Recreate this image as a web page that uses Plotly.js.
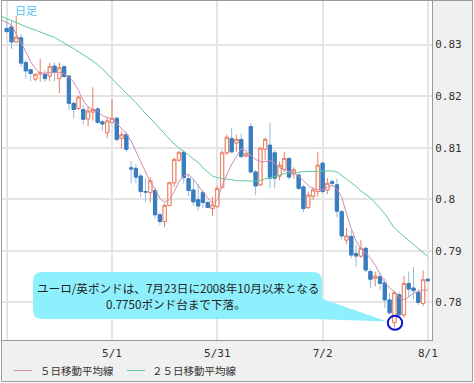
<!DOCTYPE html>
<html><head><meta charset="utf-8">
<script src="https://cdn.plot.ly/plotly-3.0.1.min.js"></script>
<style>html,body{margin:0;padding:0;background:#fff;}#chart{width:474px;height:383px;}</style>
</head><body><div id="chart"></div>
<script>
// trading days (first one only carries the moving-average start)
const dates = ['3/29','3/30',
'4/2','4/3','4/4','4/5','4/6','4/9','4/10','4/11','4/12','4/13',
'4/16','4/17','4/18','4/19','4/20','4/23','4/24','4/25','4/26','4/27',
'4/30','5/1','5/2','5/3','5/4','5/7','5/8','5/9','5/10','5/11',
'5/14','5/15','5/16','5/17','5/18','5/21','5/22','5/23','5/24','5/25',
'5/28','5/29','5/30','5/31','6/1','6/4','6/5','6/6','6/7','6/8',
'6/11','6/12','6/13','6/14','6/15','6/18','6/19','6/20','6/21','6/22',
'6/25','6/26','6/27','6/28','6/29','7/2','7/3','7/4','7/5','7/6',
'7/9','7/10','7/11','7/12','7/13','7/16','7/17','7/18','7/19','7/20',
'7/23','7/24','7/25','7/26','7/27','7/30','7/31','8/1'];
const candleDates = dates.slice(1);

const openP = [.8331,.8334,.8305,.8313,.8265,.8251,.8233,.8243,.8242,.8239,
.8258,.8234,.8257,.8239,.8186,.8176,.8174,.8156,.8169,.8175,
.8150,.8129,.8149,.8157,.8118,.8125,.8061,.8060,.8045,.8015,
.8013,.8017,.7970,.7957,.7988,.8032,.8076,.8091,.8040,.8018,
.7999,.8013,.7994,.7982,.7986,.8023,.8090,.8118,.8109,.8116,
.8084,.8141,.8053,.8028,.8097,.8105,.8090,.8045,.8058,.8079,
.8049,.8047,.8024,.7984,.8006,.8015,.8070,.8018,.8034,.8028,
.7976,.7921,.7928,.7895,.7890,.7905,.7860,.7847,.7850,.7838,
.7805,.7761,.7815,.7776,.7837,.7828,.7820,.7798,.7845];
const highP = [.8348,.8347,.8355,.8320,.8270,.8252,.8244,.8272,.8250,.8265,
.8265,.8265,.8258,.8240,.8189,.8201,.8183,.8179,.8217,.8179,
.8154,.8159,.8194,.8160,.8131,.8131,.8074,.8068,.8050,.8041,
.8043,.8024,.7975,.7992,.8034,.8081,.8093,.8095,.8050,.8039,
.8030,.8018,.7996,.8005,.8026,.8096,.8125,.8138,.8125,.8128,
.8091,.8147,.8057,.8102,.8120,.8148,.8096,.8073,.8092,.8082,
.8062,.8050,.8028,.8015,.8024,.8092,.8073,.8041,.8039,.8040,
.7980,.7944,.7940,.7911,.7921,.7908,.7866,.7860,.7857,.7847,
.7818,.7822,.7820,.7852,.7860,.7869,.7826,.7862,.7847];
const lowP = [.8322,.8291,.8303,.8257,.8233,.8229,.8229,.8228,.8228,.8229,
.8229,.8205,.8236,.8173,.8157,.8173,.8145,.8141,.8152,.8147,
.8133,.8118,.8147,.8112,.8099,.8092,.8031,.8031,.8004,.7995,
.7994,.7963,.7950,.7946,.7986,.8024,.8073,.8030,.8006,.7987,
.7977,.7983,.7983,.7968,.7983,.8021,.8086,.8089,.8092,.8079,
.8081,.8050,.8008,.8026,.8076,.8021,.8021,.8037,.8053,.8038,
.8040,.8018,.7975,.7981,.7999,.8005,.8012,.8010,.8025,.7965,
.7922,.7913,.7886,.7869,.7886,.7859,.7828,.7831,.7824,.7789,
.7777,.7752,.7772,.7771,.7811,.7806,.7795,.7793,.7840];
const closeP = [.8325,.8305,.8314,.8264,.8249,.8244,.8242,.8245,.8234,.8257,
.8246,.8255,.8238,.8186,.8174,.8198,.8155,.8171,.8174,.8149,
.8146,.8152,.8157,.8116,.8125,.8097,.8059,.8043,.8015,.8014,
.8036,.7970,.7957,.7988,.8032,.8077,.8091,.8042,.8017,.7995,
.7987,.7994,.7984,.7989,.8021,.8090,.8120,.8092,.8116,.8083,
.8088,.8053,.8026,.8099,.8116,.8041,.8041,.8066,.8079,.8043,
.8057,.8021,.7982,.8008,.8018,.8066,.8015,.8031,.8031,.7977,
.7929,.7929,.7892,.7890,.7905,.7863,.7845,.7851,.7837,.7805,
.7780,.7819,.7776,.7837,.7826,.7823,.7800,.7844,.7842];

const ma5 = [.8347,.8342,.8338,.8320,.8304,.8286,.8267,.8253,.8244,.8245,.8245,
.8246,.8246,.8243,.8237,.8227,.8211,.8191,.8179,.8175,.8171,
.8162,.8158,.8155,.8147,.8138,.8127,.8113,.8093,.8072,.8052,
.8033,.8020,.8002,.7994,.8000,.8015,.8034,.8046,.8048,.8039,
.8026,.8014,.8003,.7992,.7999,.8026,.8048,.8068,.8083,.8098,
.8094,.8085,.8077,.8073,.8073,.8075,.8071,.8061,.8057,.8054,
.8053,.8045,.8036,.8027,.8020,.8019,.8018,.8023,.8027,.8020,
.8004,.7972,.7943,.7919,.7904,.7896,.7886,.7872,.7856,.7839,
.7828,.7821,.7810,.7805,.7811,.7818,.7821,.7824,.7824];
const ma25 = [.8354,.8350,.8346,.8342,.8339,.8335,.8331,.8328,.8324,.8321,.8317,
.8314,.8308,.8303,.8297,.8292,.8286,.8281,.8275,.8268,.8261,
.8253,.8243,.8234,.8224,.8215,.8205,.8197,.8187,.8176,.8166,
.8157,.8147,.8136,.8126,.8116,.8107,.8099,.8093,.8086,.8078,
.8072,.8061,.8053,.8045,.8042,.8040,.8039,.8038,.8036,.8036,
.8036,.8035,.8035,.8037,.8040,.8042,.8044,.8047,.8050,.8051,
.8052,.8053,.8054,.8054,.8054,.8054,.8054,.8055,.8055,.8053,
.8046,.8039,.8032,.8025,.8016,.8010,.8003,.7993,.7983,.7972,
.7958,.7944,.7936,.7928,.7920,.7912,.7905,.7897,.7889];

const xTickVals = ['3/30','5/1','5/31','7/2','8/1'];
const xTickText = ['','5/1','5/31','7/2','8/1'];
const yTickVals = [0.78,0.79,0.80,0.81,0.82,0.83];
const yTickText = ['0.78','0.79','0.8','0.81','0.82','0.83'];
const legendLabels = ['５日移動平均線','２５日移動平均線'];
const noteLines = ['ユーロ/英ポンドは、7月23日に2008年10月以来となる','0.7750ポンド台まで下落。'];
const periodLabel = '日足';

const RED = '#ec8164', BLUE = '#3a7dbf', BLUE_WICK = '#92bde3';
const PINK = '#d08cac', GREEN = '#5ec99a', CALLOUT = '#8ef0fd';

// page geometry (pixels) -> paper coordinates
const L = 2, T = 1, W = 430, H = 339;
const px = x => (x - L) / W;
const py = y => (T + H - y) / H;
const P = (x, y) => px(x).toFixed(5) + ',' + py(y).toFixed(5);

const bodyHigh = openP.map((o, k) => Math.max(o, closeP[k]));
const bodyLow = openP.map((o, k) => Math.min(o, closeP[k]));

const traces = [
  {type:'candlestick', x:candleDates, open:openP, high:highP, low:lowP, close:closeP,
   increasing:{line:{color:RED,width:1}, fillcolor:'#ffffff'},
   decreasing:{line:{color:BLUE_WICK,width:1}, fillcolor:BLUE},
   whiskerwidth:0, hoverinfo:'skip', showlegend:false},
  {type:'candlestick', x:candleDates, open:openP, high:bodyHigh, low:bodyLow, close:closeP,
   increasing:{line:{color:RED,width:1}, fillcolor:'#ffffff'},
   decreasing:{line:{color:BLUE,width:1}, fillcolor:BLUE},
   whiskerwidth:0, hoverinfo:'skip', showlegend:false},
  {type:'scatter', mode:'lines', x:dates, y:ma25, line:{color:GREEN,width:1}, hoverinfo:'skip', showlegend:false},
  {type:'scatter', mode:'lines', x:dates, y:ma5, line:{color:PINK,width:1}, hoverinfo:'skip', showlegend:false}
];

function roundRect(x0, y0, x1, y1, r) {
  return 'M' + P(x0 + r, y0) + ' L' + P(x1 - r, y0) + ' Q' + P(x1, y0) + ' ' + P(x1, y0 + r) +
    ' L' + P(x1, y1 - r) + ' Q' + P(x1, y1) + ' ' + P(x1 - r, y1) +
    ' L' + P(x0 + r, y1) + ' Q' + P(x0, y1) + ' ' + P(x0, y1 - r) +
    ' L' + P(x0, y0 + r) + ' Q' + P(x0, y0) + ' ' + P(x0 + r, y0) + ' Z';
}

const shapes = [
  {type:'rect', xref:'paper', yref:'paper', x0:px(432), x1:px(472.5), y0:py(381.5), y1:py(0.5), fillcolor:'#f0f0f0', line:{width:0}, layer:'below'},
  {type:'rect', xref:'paper', yref:'paper', x0:px(1.5), x1:px(432), y0:py(381.5), y1:py(340), fillcolor:'#f0f0f0', line:{width:0}, layer:'below'},
  {type:'rect', xref:'paper', yref:'paper', x0:px(1.5), x1:px(472.5), y0:py(381.5), y1:py(0.5), line:{color:'#9a9a9a', width:1}, layer:'above'},
  {type:'path', xref:'paper', yref:'paper', path:roundRect(33, 272, 322, 319, 9), fillcolor:CALLOUT, line:{width:0}, layer:'above'},
  {type:'path', xref:'paper', yref:'paper', path:'M' + P(320, 298) + ' L' + P(387, 321.5) + ' L' + P(314, 319) + ' Z', fillcolor:CALLOUT, line:{width:0}, layer:'above'},
  {type:'circle', xref:'paper', yref:'paper', x0:px(387.8), x1:px(402.2), y0:py(329.8), y1:py(315.8), line:{color:'#1010d0', width:2}, layer:'above'},
  {type:'line', xref:'paper', yref:'paper', x0:px(14), x1:px(32), y0:py(370.5), y1:py(370.5), line:{color:PINK, width:1}},
  {type:'line', xref:'paper', yref:'paper', x0:px(127), x1:px(145), y0:py(370.5), y1:py(370.5), line:{color:GREEN, width:1}}
];

const cjk = '"Noto Sans CJK JP", "Noto Sans", sans-serif';
const annotations = [
  {xref:'paper', yref:'paper', x:px(13), y:py(10), text:periodLabel, showarrow:false, xanchor:'left', yanchor:'middle', font:{family:cjk, size:11, color:'#4fc3ee'}},
  {xref:'paper', yref:'paper', x:px(38), y:py(370.5), text:legendLabels[0], showarrow:false, xanchor:'left', yanchor:'middle', font:{family:cjk, size:10.5, color:'#333'}},
  {xref:'paper', yref:'paper', x:px(150), y:py(370.5), text:legendLabels[1], showarrow:false, xanchor:'left', yanchor:'middle', font:{family:cjk, size:10.5, color:'#333'}},
  {xref:'paper', yref:'paper', x:px(178), y:py(288), text:noteLines[0], showarrow:false, xanchor:'center', yanchor:'middle', font:{family:cjk, size:11.6, color:'#222'}},
  {xref:'paper', yref:'paper', x:px(176), y:py(303.5), text:noteLines[1], showarrow:false, xanchor:'center', yanchor:'middle', font:{family:cjk, size:11.6, color:'#222'}}
];

const layout = {
  width:474, height:383,
  margin:{l:L, r:474 - L - W, t:T, b:383 - T - H, pad:0},
  paper_bgcolor:'#ffffff', plot_bgcolor:'#ffffff',
  showlegend:false, hovermode:false,
  boxgap:0.18, boxgroupgap:0.18,
  xaxis:{type:'category', categoryorder:'array', categoryarray:dates,
    range:[0.018, 89.86], autorange:false, fixedrange:true,
    tickmode:'array', tickvals:xTickVals, ticktext:xTickText,
    showgrid:true, gridcolor:'#e4e4e4', gridwidth:2, zeroline:false,
    showline:true, linecolor:'#9a9a9a', linewidth:1, mirror:true,
    ticks:'', ticklabelstandoff:3,
    tickfont:{family:'"DejaVu Sans Mono", monospace', size:11, color:'#333'},
    rangeslider:{visible:false}},
  yaxis:{side:'right', range:[0.77273, 0.83843], autorange:false, fixedrange:true,
    tickmode:'array', tickvals:yTickVals, ticktext:yTickText,
    showgrid:true, gridcolor:'#e4e4e4', gridwidth:2, zeroline:false,
    showline:true, linecolor:'#9a9a9a', linewidth:1, mirror:true,
    ticks:'', ticklabelstandoff:0,
    tickfont:{family:'"DejaVu Sans Mono", monospace', size:11, color:'#333'}},
  shapes:shapes, annotations:annotations
};

Plotly.newPlot('chart', traces, layout, {staticPlot:true, displayModeBar:false});
</script></body></html>
